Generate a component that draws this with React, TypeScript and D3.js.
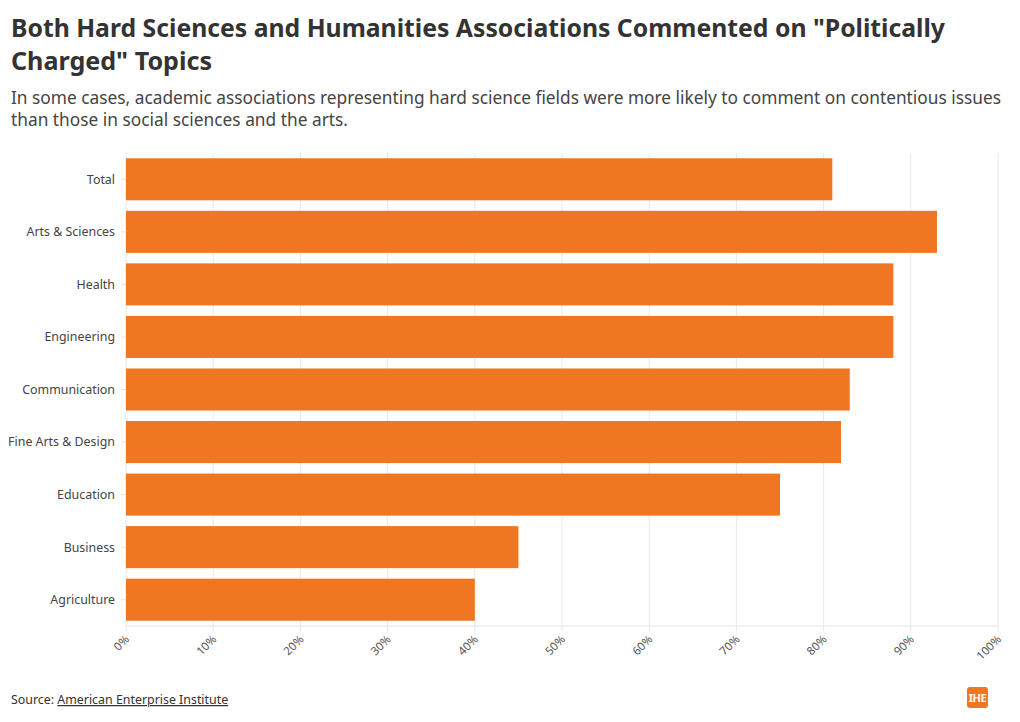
import React from "react";
import * as d3 from "d3";

const categories = ["Total", "Arts & Sciences", "Health", "Engineering", "Communication", "Fine Arts & Design", "Education", "Business", "Agriculture"];
const values = [81, 93, 88, 88, 83, 82, 75, 45, 40];
const xTicks = [0, 10, 20, 30, 40, 50, 60, 70, 80, 90, 100];

const W = 1020, H = 722;
const M = { left: 126, right: 998, top: 153, bottom: 626 };
const FONT = "'Source Sans Pro', 'Noto Sans', 'Open Sans', sans-serif";

export default function App() {
  const x = d3.scaleLinear().domain([0, 100]).range([M.left, M.right]);
  const y = d3.scaleBand<string>().domain(categories).range([M.top, M.bottom]).paddingInner(0.2).paddingOuter(0.1);
  return (
    <svg width={W} height={H} style={{ position: "absolute", left: 0, top: 0, background: "#fff" }} fontFamily={FONT}>
      <text x={11} y={37} fontSize={24.7} fontWeight={700} fill="#333" textLength={934} lengthAdjust="spacingAndGlyphs">Both Hard Sciences and Humanities Associations Commented on "Politically</text>
      <text x={11} y={70} fontSize={24.7} fontWeight={700} fill="#333" textLength={201} lengthAdjust="spacingAndGlyphs">Charged" Topics</text>
      <text x={11} y={104} fontSize={17.5} fill="#444" textLength={990} lengthAdjust="spacingAndGlyphs">In some cases, academic associations representing hard science fields were more likely to comment on contentious issues</text>
      <text x={11} y={126} fontSize={17.5} fill="#444" textLength={337} lengthAdjust="spacingAndGlyphs">than those in social sciences and the arts.</text>
      {xTicks.map((t) => (
        <g key={t}>
          <line x1={x(t)} x2={x(t)} y1={M.top} y2={M.bottom + 5} stroke="#e8e8e8" strokeWidth={1} />
          <text transform={`translate(${x(t) + 4},${M.bottom + 14}) rotate(-45)`} textAnchor="end" fontSize={11.5} fill="#555">{t}%</text>
        </g>
      ))}
      <line x1={M.left} x2={M.right} y1={M.bottom} y2={M.bottom} stroke="#e4e4e4" />
      {categories.map((c, i) => (
        <g key={c}>
          <rect x={x(0)} y={y(c)!} width={x(values[i]) - x(0)} height={y.bandwidth()} fill="#F07622" />
          <line x1={M.left - 5} x2={M.left} y1={y(c)! + y.bandwidth() / 2} y2={y(c)! + y.bandwidth() / 2} stroke="#e4e4e4" />
          <text x={115} y={y(c)! + y.bandwidth() / 2} dy="0.35em" textAnchor="end" fontSize={12.4} fill="#444">{c}</text>
        </g>
      ))}
      <text x={11} y={704} fontSize={12.4} fill="#333">Source: <tspan textDecoration="underline">American Enterprise Institute</tspan></text>
      <rect x={967} y={687} width={21} height={21} rx={3} fill="#F07622" />
      <text x={977.5} y={702} textAnchor="middle" fontSize={11} fontWeight={700} fill="#fff" style={{ letterSpacing: "-0.5px" }}>IHE</text>
    </svg>
  );
}
